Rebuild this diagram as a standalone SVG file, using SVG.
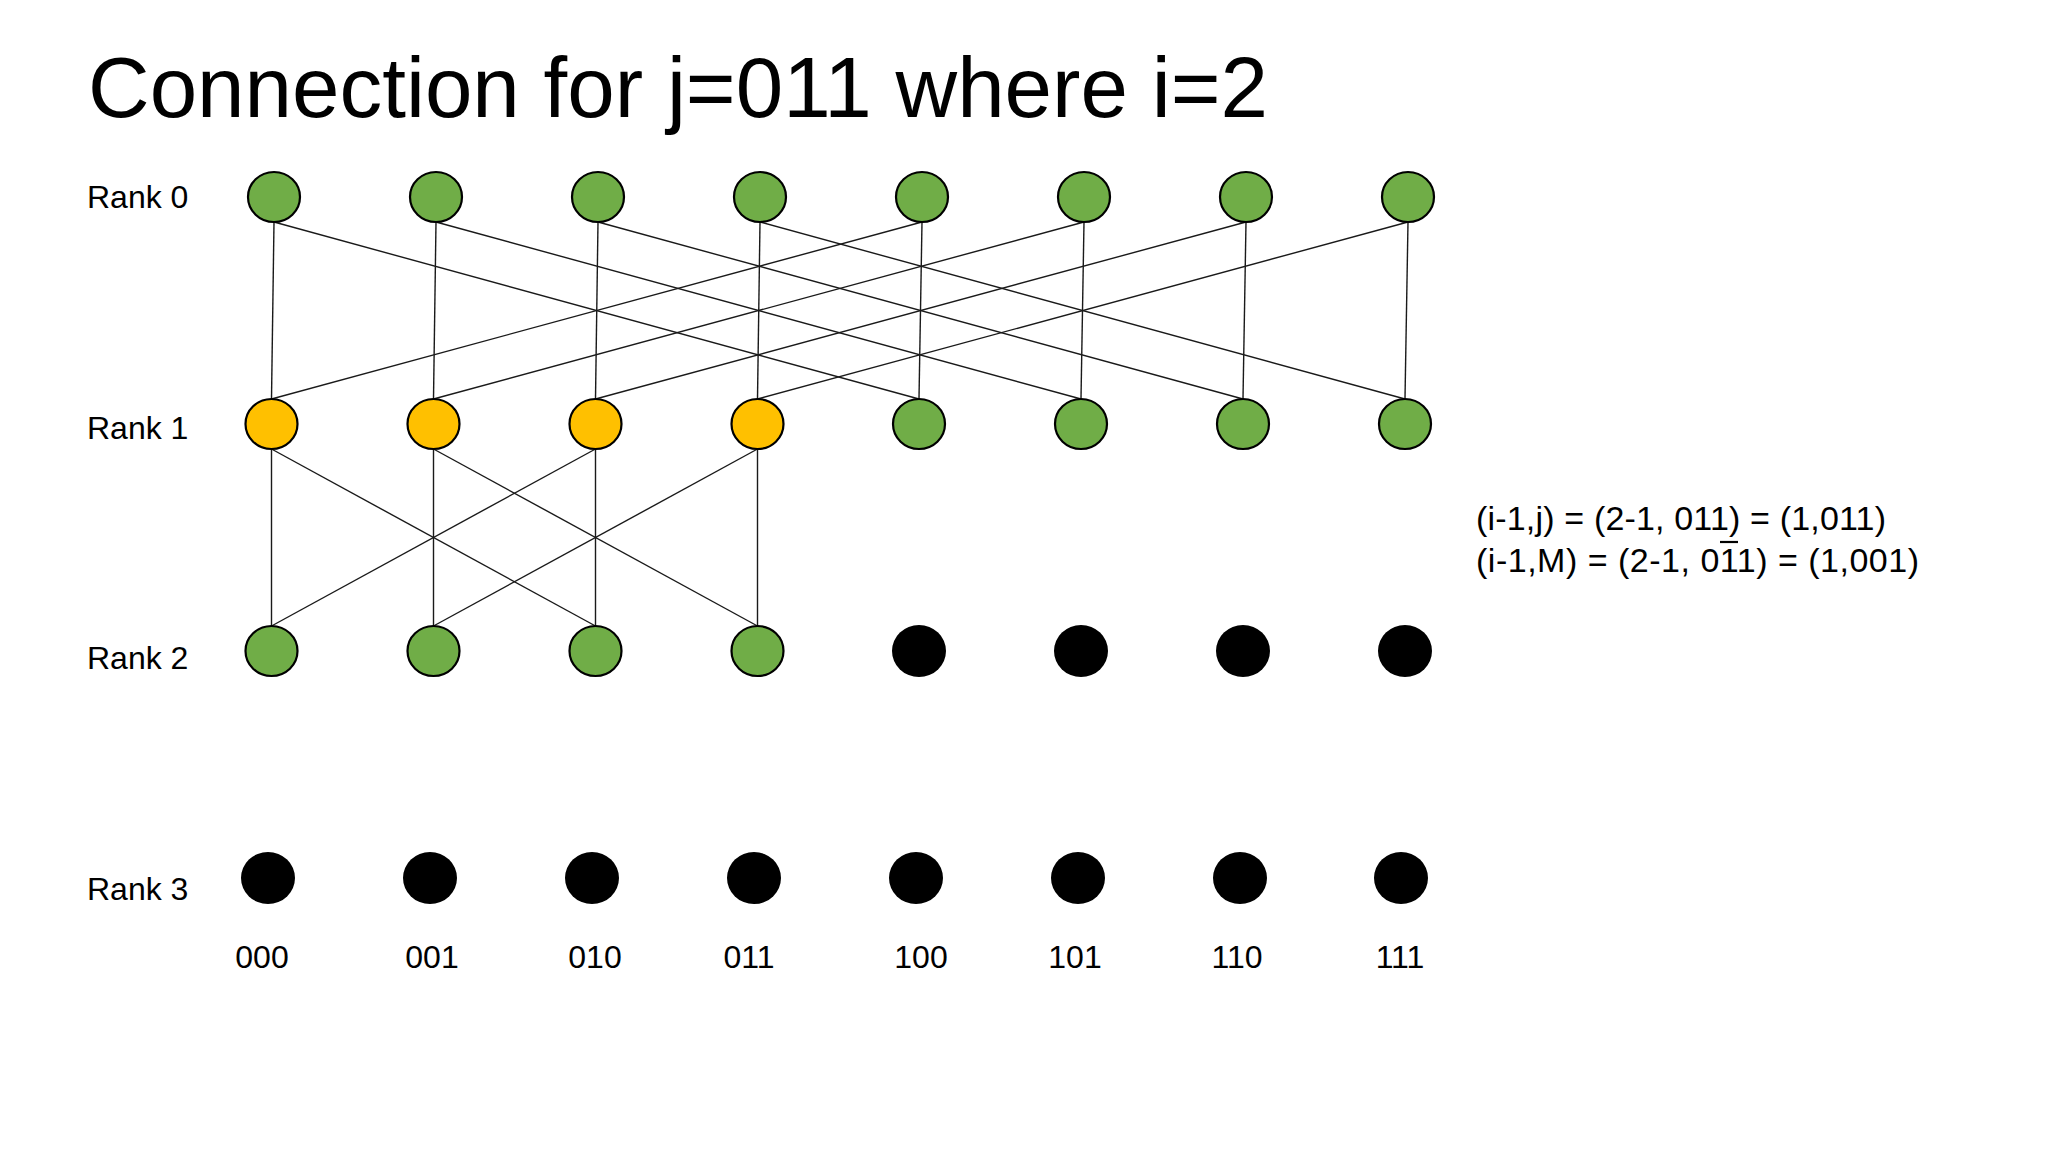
<svg xmlns="http://www.w3.org/2000/svg" width="2048" height="1152" viewBox="0 0 2048 1152">
<style>
text{font-family:"Liberation Sans","Open Sans",Arial,sans-serif;fill:#000}
.title{font-size:85px}
.lbl{font-size:32px}
.bits{font-size:32px;text-anchor:middle}
.eq{font-size:34px}
.g{fill:#70AD47;stroke:#000;stroke-width:2.2}
.y{fill:#FFC000;stroke:#000;stroke-width:2.2}
.b{fill:#000}
#connectors line{stroke:#1a1a1a;stroke-width:1.4}
</style>
<rect width="2048" height="1152" fill="#fff"/>
<text class="title" x="88" y="117" textLength="1180" lengthAdjust="spacingAndGlyphs">Connection for j=011 where i=2</text>
<g id="labels">
<text class="lbl" x="87" y="208">Rank 0</text>
<text class="lbl" x="87" y="439">Rank 1</text>
<text class="lbl" x="87" y="669">Rank 2</text>
<text class="lbl" x="87" y="900">Rank 3</text>
</g>
<g id="connectors">
<line x1="274" y1="222" x2="271.5" y2="399"/>
<line x1="436" y1="222" x2="433.5" y2="399"/>
<line x1="598" y1="222" x2="595.5" y2="399"/>
<line x1="760" y1="222" x2="757.5" y2="399"/>
<line x1="922" y1="222" x2="919" y2="399"/>
<line x1="1084" y1="222" x2="1081" y2="399"/>
<line x1="1246" y1="222" x2="1243" y2="399"/>
<line x1="1408" y1="222" x2="1405" y2="399"/>
<line x1="274" y1="222" x2="919" y2="399"/>
<line x1="436" y1="222" x2="1081" y2="399"/>
<line x1="598" y1="222" x2="1243" y2="399"/>
<line x1="760" y1="222" x2="1405" y2="399"/>
<line x1="922" y1="222" x2="271.5" y2="399"/>
<line x1="1084" y1="222" x2="433.5" y2="399"/>
<line x1="1246" y1="222" x2="595.5" y2="399"/>
<line x1="1408" y1="222" x2="757.5" y2="399"/>
<line x1="271.5" y1="449" x2="271.5" y2="626"/>
<line x1="433.5" y1="449" x2="433.5" y2="626"/>
<line x1="595.5" y1="449" x2="595.5" y2="626"/>
<line x1="757.5" y1="449" x2="757.5" y2="626"/>
<line x1="271.5" y1="449" x2="595.5" y2="626"/>
<line x1="433.5" y1="449" x2="757.5" y2="626"/>
<line x1="595.5" y1="449" x2="271.5" y2="626"/>
<line x1="757.5" y1="449" x2="433.5" y2="626"/>
</g>
<g id="rank0">
<ellipse id="n0-000" class="g" cx="274" cy="197" rx="26" ry="25"/>
<ellipse id="n0-001" class="g" cx="436" cy="197" rx="26" ry="25"/>
<ellipse id="n0-010" class="g" cx="598" cy="197" rx="26" ry="25"/>
<ellipse id="n0-011" class="g" cx="760" cy="197" rx="26" ry="25"/>
<ellipse id="n0-100" class="g" cx="922" cy="197" rx="26" ry="25"/>
<ellipse id="n0-101" class="g" cx="1084" cy="197" rx="26" ry="25"/>
<ellipse id="n0-110" class="g" cx="1246" cy="197" rx="26" ry="25"/>
<ellipse id="n0-111" class="g" cx="1408" cy="197" rx="26" ry="25"/>
</g>
<g id="rank1">
<ellipse id="n1-000" class="y" cx="271.5" cy="424" rx="26" ry="25"/>
<ellipse id="n1-001" class="y" cx="433.5" cy="424" rx="26" ry="25"/>
<ellipse id="n1-010" class="y" cx="595.5" cy="424" rx="26" ry="25"/>
<ellipse id="n1-011" class="y" cx="757.5" cy="424" rx="26" ry="25"/>
<ellipse id="n1-100" class="g" cx="919" cy="424" rx="26" ry="25"/>
<ellipse id="n1-101" class="g" cx="1081" cy="424" rx="26" ry="25"/>
<ellipse id="n1-110" class="g" cx="1243" cy="424" rx="26" ry="25"/>
<ellipse id="n1-111" class="g" cx="1405" cy="424" rx="26" ry="25"/>
</g>
<g id="rank2">
<ellipse id="n2-000" class="g" cx="271.5" cy="651" rx="26" ry="25"/>
<ellipse id="n2-001" class="g" cx="433.5" cy="651" rx="26" ry="25"/>
<ellipse id="n2-010" class="g" cx="595.5" cy="651" rx="26" ry="25"/>
<ellipse id="n2-011" class="g" cx="757.5" cy="651" rx="26" ry="25"/>
<ellipse id="n2-100" class="b" cx="919" cy="651" rx="27" ry="26"/>
<ellipse id="n2-101" class="b" cx="1081" cy="651" rx="27" ry="26"/>
<ellipse id="n2-110" class="b" cx="1243" cy="651" rx="27" ry="26"/>
<ellipse id="n2-111" class="b" cx="1405" cy="651" rx="27" ry="26"/>
</g>
<g id="rank3">
<ellipse id="n3-000" class="b" cx="268" cy="878" rx="27" ry="26"/>
<ellipse id="n3-001" class="b" cx="430" cy="878" rx="27" ry="26"/>
<ellipse id="n3-010" class="b" cx="592" cy="878" rx="27" ry="26"/>
<ellipse id="n3-011" class="b" cx="754" cy="878" rx="27" ry="26"/>
<ellipse id="n3-100" class="b" cx="916" cy="878" rx="27" ry="26"/>
<ellipse id="n3-101" class="b" cx="1078" cy="878" rx="27" ry="26"/>
<ellipse id="n3-110" class="b" cx="1240" cy="878" rx="27" ry="26"/>
<ellipse id="n3-111" class="b" cx="1401" cy="878" rx="27" ry="26"/>
</g>
<g id="bit-labels">
<text class="bits" x="262" y="968">000</text>
<text class="bits" x="432" y="968">001</text>
<text class="bits" x="595" y="968">010</text>
<text class="bits" x="749" y="968">011</text>
<text class="bits" x="921" y="968">100</text>
<text class="bits" x="1075" y="968">101</text>
<text class="bits" x="1237" y="968">110</text>
<text class="bits" x="1400" y="968">111</text>
</g>
<g id="equations">
<text class="eq" x="1476" y="530" textLength="410" lengthAdjust="spacing">(i-1,j) = (2-1, 011) = (1,011)</text>
<text class="eq" x="1476" y="572" textLength="443" lengthAdjust="spacing">(i-1,M) = (2-1, 011) = (1,001)</text>
<line x1="1720" y1="542" x2="1738" y2="542" stroke="#000" stroke-width="2.2"/>
</g>
</svg>
